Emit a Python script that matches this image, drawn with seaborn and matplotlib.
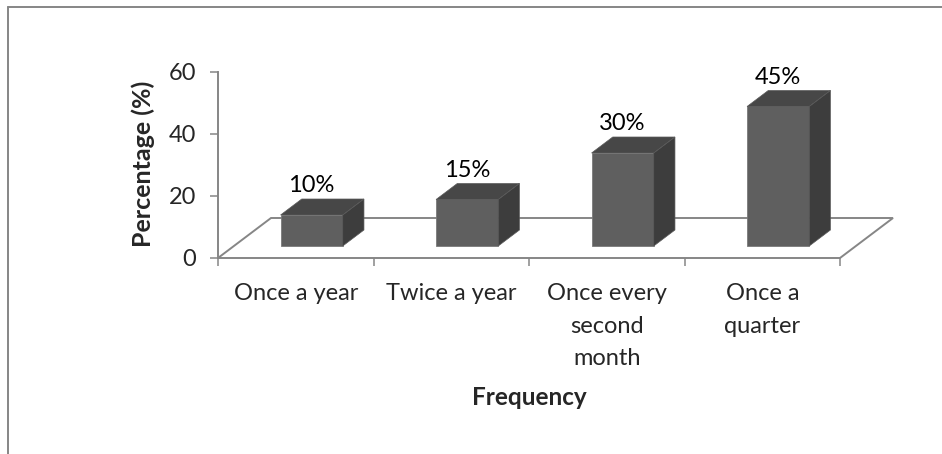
import matplotlib
matplotlib.use("Agg")
import matplotlib.pyplot as plt
from matplotlib.lines import Line2D
from matplotlib.patches import Polygon
import seaborn as sns
import pandas as pd

# Survey data
categories = ["Once a year", "Twice a year", "Once every\nsecond\nmonth", "Once a\nquarter"]
percentages = [10, 15, 30, 45]
value_labels = ["10%", "15%", "30%", "45%"]
y_ticks = [0, 20, 40, 60]

sns.set_theme(style="white")
plt.rcParams["font.family"] = ["Lato", "DejaVu Sans"]

W, H = 942, 454
GRAY = "#868686"
FRONT_C, TOP_C, SIDE_C = "#5f5f5f", "#474747", "#3d3d3d"
FS = 17

fig = plt.figure(figsize=(W / 100, H / 100), dpi=100)
ax = fig.add_axes([218 / W, (H - 258) / H, (840 - 218) / W, (258 - 72) / H])
ax.set_facecolor("none")

df = pd.DataFrame({"Frequency": categories, "Percentage": percentages})
sns.barplot(data=df, x="Frequency", y="Percentage", color=FRONT_C, saturation=1,
            width=0.4, edgecolor="#7a7a7a", linewidth=0.6, ax=ax, zorder=3)
ax.set_xlim(-0.5, 3.5)
ax.set_ylim(0, 60)

# pixel sizes of one data unit, used for the oblique depth projection
p0 = ax.transData.transform((0, 0))
px_x = ax.transData.transform((1, 0))[0] - p0[0]
px_y = ax.transData.transform((0, 1))[1] - p0[1]

DEPTH_DX, DEPTH_DY = 53, 40   # floor depth in pixels
FRONT, BACK = 0.3, 0.7        # bar depth range as a fraction of the floor


def proj(x, y, d):
    return (x + d * DEPTH_DX / px_x, y + d * DEPTH_DY / px_y)


# floor of the 3-D plot area
floor = [proj(-0.5, 0, 0), proj(3.5, 0, 0), proj(3.5, 0, 1), proj(-0.5, 0, 1)]
ax.add_patch(Polygon(floor, closed=True, fill=False, edgecolor=GRAY, lw=1.4,
                     clip_on=False, zorder=1))

# turn each flat bar into a box: shift the front face and add top and side faces
for patch, label in zip(ax.patches[:len(percentages)], value_labels):
    x0, w, h = patch.get_x(), patch.get_width(), patch.get_height()
    fx, fy = proj(x0, 0, FRONT)
    patch.set_x(fx)
    patch.set_y(fy)
    patch.set_clip_on(False)
    top = [proj(x0, h, FRONT), proj(x0 + w, h, FRONT), proj(x0 + w, h, BACK), proj(x0, h, BACK)]
    side = [proj(x0 + w, 0, FRONT), proj(x0 + w, 0, BACK), proj(x0 + w, h, BACK), proj(x0 + w, h, FRONT)]
    ax.add_patch(Polygon(top, closed=True, facecolor=TOP_C, edgecolor="#5a5a5a", lw=0.5,
                         clip_on=False, zorder=3))
    ax.add_patch(Polygon(side, closed=True, facecolor=SIDE_C, edgecolor="#5a5a5a", lw=0.5,
                         clip_on=False, zorder=3))
    lx, ly = proj(x0 + w / 2, h, BACK)
    ax.text(fx + w / 2, ly + 13 / px_y, label, ha="center", va="center",
            fontsize=FS, color="black", clip_on=False, zorder=4)

# axes styling
for s in ["top", "right", "bottom"]:
    ax.spines[s].set_visible(False)
ax.spines["left"].set_color(GRAY)
ax.spines["left"].set_linewidth(1.4)

ax.set_yticks(y_ticks)
ax.tick_params(axis="y", direction="out", length=6, width=1.1, color=GRAY,
               labelsize=FS, pad=10, left=True)
ax.set_xticks([-0.5, 0.5, 1.5, 2.5, 3.5])
ax.set_xticklabels([])
ax.set_xticks(range(len(categories)), minor=True)
ax.set_xticklabels(categories, minor=True, fontsize=FS, linespacing=1.68, va="top")
ax.tick_params(axis="x", which="major", direction="out", length=6, width=1.1,
               color=GRAY, bottom=True)
ax.tick_params(axis="x", which="minor", length=0, pad=18)
ax.set_xlabel("")
ax.set_ylabel("")

fig.text(529 / W, 1 - 405 / H, "Frequency", ha="center", va="baseline",
         fontsize=17.5, fontweight="bold")
fig.text(143 / W, 1 - 164 / H, "Percentage (%)", ha="center", va="center",
         rotation=90, fontsize=18, fontweight="bold")

# chart border
fig.add_artist(Line2D([7.5 / W, 1], [1 - 6.5 / H, 1 - 6.5 / H], color=GRAY, lw=1.4))
fig.add_artist(Line2D([7.5 / W, 7.5 / W], [0, 1 - 6.5 / H], color=GRAY, lw=1.4))

fig.savefig("out.png", dpi=100, facecolor="white")
